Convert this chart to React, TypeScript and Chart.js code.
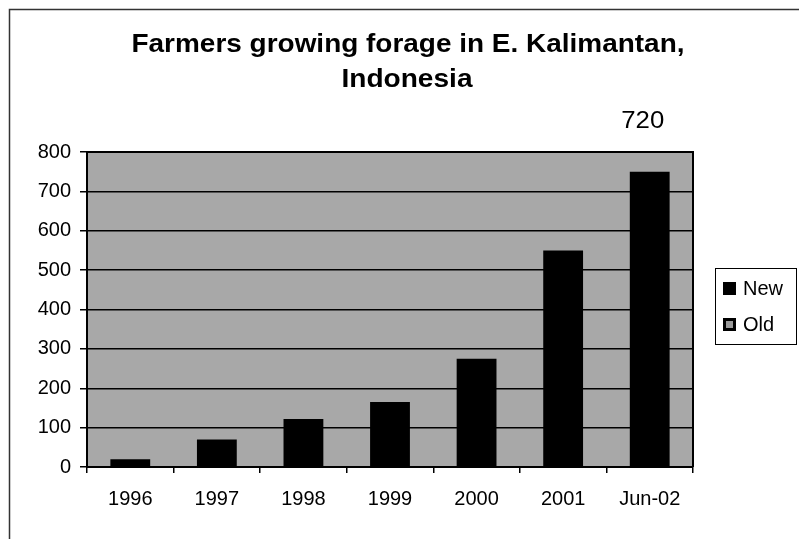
import { useEffect, useRef } from "react";
import { Chart, registerables } from "chart.js";

Chart.register(...registerables);

const categories = ["1996", "1997", "1998", "1999", "2000", "2001", "Jun-02"];
const newFarmers = [20, 70, 122, 165, 275, 550, 750];
const oldFarmers = [0, 0, 0, 0, 0, 0, 0];
const yMin = 0;
const yMax = 800;
const yStep = 100;
const titleLines = ["Farmers growing forage in E. Kalimantan,", "Indonesia"];
const seriesNames = ["New", "Old"];
const annotationText = "720";
const annotationIndex = 6;

const FONT = "'Liberation Sans', Arial, sans-serif";
const PLOT_BG = "#a8a8a8";

function drawStretched(ctx: any, text: string, cx: number, baseline: number, font: string, targetWidth: number) {
  ctx.save();
  ctx.font = font;
  ctx.textAlign = "center";
  ctx.textBaseline = "alphabetic";
  const w = ctx.measureText(text).width;
  const s = targetWidth / w;
  ctx.translate(cx, baseline);
  ctx.scale(s, 1);
  ctx.fillText(text, 0, 0);
  ctx.restore();
}

const decorPlugin = {
  id: "decor",
  beforeDraw(chart: any) {
    const { ctx, chartArea, width, height } = chart;
    ctx.save();
    ctx.fillStyle = "#ffffff";
    ctx.fillRect(0, 0, width, height);
    ctx.fillStyle = PLOT_BG;
    ctx.fillRect(
      chartArea.left,
      chartArea.top,
      chartArea.right - chartArea.left,
      chartArea.bottom - chartArea.top
    );
    ctx.strokeStyle = "#333";
    ctx.lineWidth = 1.5;
    ctx.beginPath();
    ctx.moveTo(9.5, height);
    ctx.lineTo(9.5, 9.5);
    ctx.lineTo(width, 9.5);
    ctx.stroke();
    ctx.restore();
  },
  afterDraw(chart: any) {
    const { ctx, chartArea } = chart;
    ctx.save();
    ctx.strokeStyle = "#000";
    ctx.lineWidth = 2;
    ctx.beginPath();
    ctx.moveTo(chartArea.left, chartArea.top);
    ctx.lineTo(chartArea.right, chartArea.top);
    ctx.lineTo(chartArea.right, chartArea.bottom);
    ctx.stroke();

    ctx.fillStyle = "#000";
    drawStretched(ctx, titleLines[0], 408, 52, `bold 25px ${FONT}`, 553);
    drawStretched(ctx, titleLines[1], 407, 87, `bold 25px ${FONT}`, 131);

    const xs = chart.scales.x;
    drawStretched(ctx, annotationText, xs.getPixelForValue(annotationIndex) - 7, 128, `23px ${FONT}`, 43);

    // legend
    const lx = 715, ly = 268, lw = 81, lh = 76;
    ctx.fillStyle = "#fff";
    ctx.fillRect(lx, ly, lw, lh);
    ctx.strokeStyle = "#000";
    ctx.lineWidth = 1;
    ctx.strokeRect(lx + 0.5, ly + 0.5, lw, lh);
    ctx.fillStyle = "#000";
    ctx.fillRect(723, 282, 13, 13);
    ctx.fillRect(723, 318, 13, 13);
    ctx.fillStyle = "#999";
    ctx.fillRect(726, 321, 7, 7);
    ctx.fillStyle = "#000";
    ctx.textAlign = "left";
    ctx.textBaseline = "alphabetic";
    ctx.font = `20px ${FONT}`;
    ctx.fillText(seriesNames[0], 743, 295);
    ctx.fillText(seriesNames[1], 743, 331);
    ctx.restore();
  },
};

export default function App() {
  const ref = useRef<HTMLCanvasElement | null>(null);

  useEffect(() => {
    if (!ref.current) return;
    const chart = new Chart(ref.current, {
      type: "bar",
      data: {
        labels: categories,
        datasets: [
          {
            label: seriesNames[0],
            data: newFarmers,
            backgroundColor: "#000000",
            barPercentage: 0.46,
            categoryPercentage: 1,
          },
          {
            label: seriesNames[1],
            data: oldFarmers,
            backgroundColor: "#8a8a8a",
            barPercentage: 0.46,
            categoryPercentage: 1,
          },
        ],
      },
      options: {
        animation: false,
        responsive: false,
        devicePixelRatio: 1,
        layout: { padding: { left: 10, right: 106, top: 152, bottom: 32 } },
        plugins: {
          legend: { display: false },
          title: { display: false },
          tooltip: { enabled: false },
        },
        scales: {
          x: {
            stacked: true,
            grid: {
              offset: true,
              drawOnChartArea: false,
              color: "#000",
              tickLength: 6,
              lineWidth: 1.5,
            },
            border: { display: true, color: "#000", width: 2 },
            ticks: {
              color: "#000",
              font: { family: FONT, size: 20 },
              padding: 14,
              maxRotation: 0,
            },
            afterFit(scale: any) {
              scale.height = 40;
            },
          },
          y: {
            stacked: true,
            min: yMin,
            max: yMax,
            grid: { color: "#000", lineWidth: 1.5, tickLength: 7 },
            border: { display: true, color: "#000", width: 2 },
            ticks: {
              stepSize: yStep,
              color: "#000",
              font: { family: FONT, size: 20 },
              padding: 9,
            },
            afterFit(scale: any) {
              scale.width = 77;
            },
          },
        },
      },
      plugins: [decorPlugin],
    });
    return () => chart.destroy();
  }, []);

  return (
    <div style={{ position: "absolute", left: 0, top: 0, width: 799, height: 539 }}>
      <canvas ref={ref} width={799} height={539} style={{ width: 799, height: 539, display: "block" }} />
    </div>
  );
}
